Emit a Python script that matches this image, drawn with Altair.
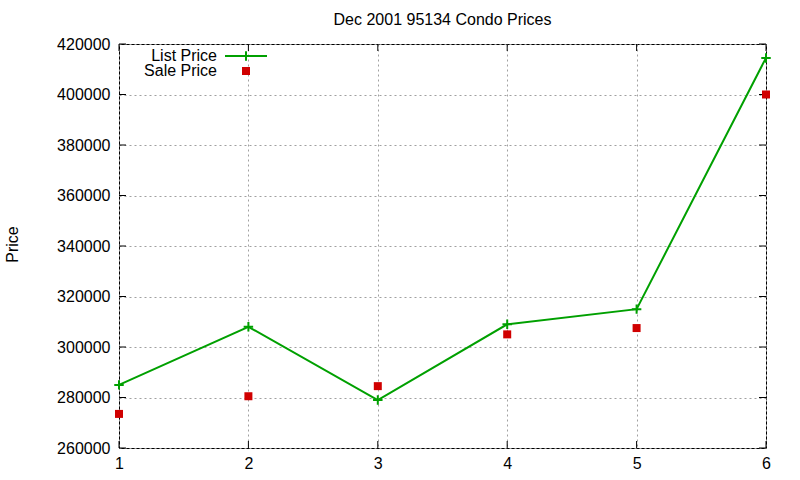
import altair as alt
import pandas as pd

# Condo prices for 95134, December 2001
listing = [1, 2, 3, 4, 5, 6]
list_price = [285000, 308000, 279000, 309000, 315000, 414500]
sale_price = [273500, 280500, 284500, 305000, 307500, 400000]

x_ticks = [1, 2, 3, 4, 5, 6]
y_ticks = [260000, 280000, 300000, 320000, 340000, 360000, 380000, 400000, 420000]

FONT = "Liberation Sans"
GREEN = "#00a000"
RED = "#d00000"
PLUS = "M-1,0H1M0,-1V1"

W, H = 647, 404

df = pd.DataFrame({"listing": listing, "list": list_price, "sale": sale_price})

xs = alt.Scale(domain=[1, 6], nice=False, zero=False)
ys = alt.Scale(domain=[260000, 420000], nice=False, zero=False)

x_axis = alt.Axis(values=x_ticks, format="d", grid=True, gridDash=[2, 3],
                  gridColor="#a0a0a0", tickSize=0, domain=False, labelPadding=7,
                  labelFlush=False, labelBound=False, labelOverlap=False,
                  labelFontSize=16, labelFont=FONT, labelColor="black", title=None)
y_axis = alt.Axis(values=y_ticks, format="d", grid=True, gridDash=[2, 3],
                  gridColor="#a0a0a0", tickSize=0, domain=False, labelPadding=9,
                  labelFlush=False, labelBound=False, labelOverlap=False,
                  labelFontSize=16, labelFont=FONT, labelColor="black",
                  title="Price", titleFont=FONT, titleFontSize=16,
                  titleFontWeight="normal", titleColor="black",
                  titleX=-107, titleY=200, titleAngle=-90,
                  titleAlign="center", titleBaseline="middle")

X = lambda f: alt.X(f, scale=xs, axis=x_axis, title=None)
Y = lambda f: alt.Y(f, scale=ys, axis=y_axis, title="Price")

base = alt.Chart(df)

line = base.mark_line(color=GREEN, strokeWidth=2).encode(
    x=X("listing:Q"), y=Y("list:Q"))
plus = base.mark_point(shape=PLUS, size=90, color=GREEN, strokeWidth=2,
                       filled=False, opacity=1).encode(
    x=X("listing:Q"), y=Y("list:Q"))
sale = base.mark_point(shape="square", size=64, color=RED, filled=True,
                       opacity=1).encode(
    x=X("listing:Q"), y=Y("sale:Q"))

# inward tick marks on all four sides of the frame
yt = pd.DataFrame({"v": y_ticks})
xt = pd.DataFrame({"v": x_ticks})
ytick_l = alt.Chart(yt).mark_rule(color="black").encode(
    y=Y("v:Q"), x=alt.value(0), x2=alt.value(7))
ytick_r = alt.Chart(yt).mark_rule(color="black").encode(
    y=Y("v:Q"), x=alt.value(W - 7), x2=alt.value(W))
xtick_b = alt.Chart(xt).mark_rule(color="black").encode(
    x=X("v:Q"), y=alt.value(H - 7), y2=alt.value(H))
xtick_t = alt.Chart(xt).mark_rule(color="black").encode(
    x=X("v:Q"), y=alt.value(0), y2=alt.value(7))

# key in the upper-left corner
one = pd.DataFrame({"k": [0]})
key_list_text = alt.Chart(one).mark_text(align="right", baseline="middle",
                                         font=FONT, fontSize=16, color="black").encode(
    x=alt.value(98), y=alt.value(12), text=alt.value("List Price"))
key_sale_text = alt.Chart(one).mark_text(align="right", baseline="middle",
                                         font=FONT, fontSize=16, color="black").encode(
    x=alt.value(98), y=alt.value(27), text=alt.value("Sale Price"))
key_line = alt.Chart(one).mark_rule(color=GREEN, strokeWidth=2).encode(
    x=alt.value(106), x2=alt.value(148), y=alt.value(12))
key_plus = alt.Chart(one).mark_point(shape=PLUS, size=90, color=GREEN, strokeWidth=2,
                                     filled=False, opacity=1).encode(
    x=alt.value(127), y=alt.value(12))
key_square = alt.Chart(one).mark_point(shape="square", size=64, color=RED,
                                       filled=True, opacity=1).encode(
    x=alt.value(127), y=alt.value(27))

chart = alt.layer(
    line, ytick_l, ytick_r, xtick_b, xtick_t, plus, sale,
    key_list_text, key_sale_text, key_line, key_plus, key_square,
).properties(
    width=W, height=H,
    background="white",
    title=alt.Title("Dec 2001 95134 Condo Prices", font=FONT, fontSize=16,
                    fontWeight="normal", color="black", anchor="middle",
                    baseline="bottom", offset=0, dy=8),
    autosize=alt.AutoSizeParams(type="none"),
    padding={"left": 119, "top": 44, "right": 34, "bottom": 32},
).configure_view(
    stroke="black", strokeWidth=1
)

chart.save("out.html", embed_options={"renderer": "svg", "actions": False})
